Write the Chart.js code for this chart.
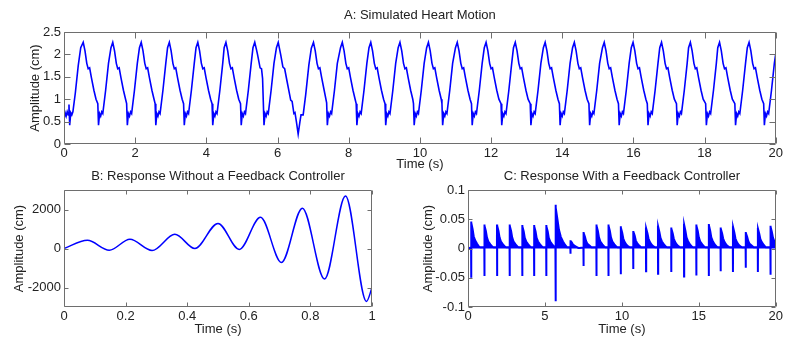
<!DOCTYPE html>
<html>
<head>
<meta charset="utf-8">
<script src="https://cdn.jsdelivr.net/npm/chart.js@4.4.1/dist/chart.umd.min.js"></script>
<style>
  body { margin: 0; background: #fff; }
  #wrap { position: relative; width: 785px; height: 337px; overflow: hidden; }
  canvas { position: absolute; }
</style>
</head>
<body>
<div id="wrap">
  <canvas id="chartA" width="785" height="172" style="left:0;top:0"></canvas>
  <canvas id="chartB" width="392" height="172" style="left:0;top:165px"></canvas>
  <canvas id="chartC" width="385" height="172" style="left:400px;top:165px"></canvas>
</div>
<script>
// A: simulated heart motion (s, cm), one line per beat
const heartTime = [
  0, 0.03, 0.06, 0.09, 0.12, 0.14, 0.16, 0.19, 0.22, 0.25, 0.32, 0.40, 0.47, 0.54, 0.59, 0.64, 0.68, 0.72, 0.77, 0.84, 0.90, 0.95,
  0.97, 1.00, 1.03, 1.06, 1.09, 1.17, 1.25, 1.32, 1.37, 1.42, 1.47, 1.51, 1.55, 1.60, 1.67, 1.73, 1.76,
  1.78, 1.81, 1.84, 1.87, 1.90, 1.98, 2.06, 2.12, 2.17, 2.22, 2.27, 2.31, 2.35, 2.40, 2.47, 2.53, 2.56,
  2.58, 2.61, 2.64, 2.67, 2.70, 2.78, 2.86, 2.91, 2.96, 3.01, 3.06, 3.10, 3.14, 3.19, 3.26, 3.32, 3.36,
  3.38, 3.41, 3.44, 3.47, 3.50, 3.58, 3.66, 3.71, 3.76, 3.81, 3.86, 3.90, 3.94, 3.99, 4.06, 4.12, 4.16,
  4.18, 4.21, 4.24, 4.27, 4.30, 4.38, 4.46, 4.50, 4.55, 4.60, 4.65, 4.69, 4.73, 4.78, 4.85, 4.91, 4.96,
  4.98, 5.01, 5.04, 5.07, 5.10, 5.18, 5.26, 5.31, 5.36, 5.41, 5.44, 5.51, 5.55, 5.58, 5.60,
  5.62, 5.65, 5.68, 5.71, 5.74, 5.82, 5.90, 5.97, 6.02, 6.09, 6.15, 6.20, 6.27, 6.37, 6.41, 6.46, 6.49, 6.53,
  6.58, 6.63, 6.66, 6.72, 6.79, 6.88, 6.95, 7.01, 7.06, 7.11, 7.15, 7.19, 7.24, 7.31, 7.38,
  7.40, 7.43, 7.46, 7.49, 7.52, 7.60, 7.68, 7.77, 7.82, 7.87, 7.92, 7.96, 8.00, 8.05, 8.12, 8.18, 8.21,
  8.23, 8.26, 8.29, 8.32, 8.35, 8.43, 8.51, 8.57, 8.62, 8.67, 8.72, 8.76, 8.80, 8.85, 8.92, 8.98, 9.02,
  9.04, 9.07, 9.10, 9.13, 9.16, 9.24, 9.32, 9.39, 9.44, 9.49, 9.54, 9.58, 9.62, 9.67, 9.74, 9.80, 9.82,
  9.84, 9.87, 9.90, 9.93, 9.96, 10.04, 10.12, 10.19, 10.24, 10.29, 10.34, 10.38, 10.42, 10.47, 10.54, 10.60, 10.62,
  10.64, 10.67, 10.70, 10.73, 10.76, 10.84, 10.92, 11.00, 11.05, 11.10, 11.15, 11.19, 11.23, 11.28, 11.35, 11.41, 11.45,
  11.47, 11.50, 11.53, 11.56, 11.59, 11.67, 11.75, 11.81, 11.86, 11.91, 11.96, 12.00, 12.04, 12.09, 12.16, 12.22, 12.28,
  12.30, 12.33, 12.36, 12.39, 12.42, 12.50, 12.58, 12.63, 12.68, 12.73, 12.78, 12.82, 12.86, 12.91, 12.98, 13.04, 13.10,
  13.12, 13.15, 13.18, 13.21, 13.24, 13.32, 13.40, 13.47, 13.52, 13.57, 13.62, 13.66, 13.70, 13.75, 13.82, 13.88, 13.92,
  13.94, 13.97, 14.00, 14.03, 14.06, 14.14, 14.22, 14.29, 14.34, 14.39, 14.44, 14.48, 14.52, 14.57, 14.64, 14.70, 14.75,
  14.77, 14.80, 14.83, 14.86, 14.89, 14.97, 15.05, 15.13, 15.18, 15.23, 15.28, 15.32, 15.36, 15.41, 15.48, 15.54, 15.58,
  15.60, 15.63, 15.66, 15.69, 15.72, 15.80, 15.88, 15.94, 15.99, 16.04, 16.09, 16.13, 16.17, 16.22, 16.29, 16.35, 16.39,
  16.41, 16.44, 16.47, 16.50, 16.53, 16.61, 16.69, 16.74, 16.79, 16.84, 16.89, 16.93, 16.97, 17.02, 17.09, 17.15, 17.21,
  17.23, 17.26, 17.29, 17.32, 17.35, 17.43, 17.51, 17.55, 17.60, 17.65, 17.70, 17.74, 17.78, 17.83, 17.90, 17.96, 18.03,
  18.05, 18.08, 18.11, 18.14, 18.17, 18.25, 18.33, 18.37, 18.42, 18.47, 18.52, 18.56, 18.60, 18.65, 18.72, 18.78, 18.85,
  18.87, 18.90, 18.93, 18.96, 18.99, 19.07, 19.15, 19.20, 19.25, 19.30, 19.35, 19.39, 19.43, 19.48, 19.55, 19.61, 19.66,
  19.68, 19.71, 19.74, 19.77, 19.80, 19.88, 19.96, 20.00
];
const heartAmp = [
  0.55, 0.70, 0.62, 0.72, 0.65, 0.88, 0.42, 0.70, 0.65, 0.72, 1.15, 1.75, 2.15, 2.27, 2.08, 1.80, 1.68, 1.70, 1.48, 1.20, 1.00, 0.90,
  0.42, 0.68, 0.62, 0.72, 0.68, 1.20, 1.80, 2.15, 2.27, 2.08, 1.80, 1.68, 1.70, 1.48, 1.20, 1.00, 0.90,
  0.42, 0.68, 0.62, 0.72, 0.68, 1.20, 1.80, 2.15, 2.27, 2.08, 1.80, 1.68, 1.70, 1.48, 1.20, 1.00, 0.90,
  0.42, 0.68, 0.62, 0.72, 0.68, 1.20, 1.80, 2.15, 2.27, 2.08, 1.80, 1.68, 1.70, 1.48, 1.20, 1.00, 0.90,
  0.42, 0.68, 0.62, 0.72, 0.68, 1.20, 1.80, 2.15, 2.27, 2.08, 1.80, 1.68, 1.70, 1.48, 1.20, 1.00, 0.90,
  0.42, 0.68, 0.62, 0.72, 0.68, 1.20, 1.80, 2.15, 2.27, 2.08, 1.80, 1.68, 1.70, 1.48, 1.20, 1.00, 0.90,
  0.42, 0.68, 0.62, 0.72, 0.68, 1.20, 1.80, 2.15, 2.27, 2.10, 1.99, 1.70, 1.68, 1.46, 0.95,
  0.42, 0.68, 0.62, 0.72, 0.68, 1.20, 1.80, 2.15, 2.27, 1.99, 1.72, 1.68, 1.39, 0.98, 0.95, 0.68, 0.70, 0.50,
  0.22, 0.50, 0.65, 0.65, 1.09, 1.76, 2.14, 2.27, 2.08, 1.80, 1.68, 1.70, 1.48, 1.20, 0.92,
  0.42, 0.68, 0.62, 0.72, 0.68, 1.20, 1.80, 2.15, 2.27, 2.08, 1.80, 1.68, 1.70, 1.48, 1.20, 1.00, 0.90,
  0.42, 0.68, 0.62, 0.72, 0.68, 1.20, 1.80, 2.15, 2.27, 2.08, 1.80, 1.68, 1.70, 1.48, 1.20, 1.00, 0.90,
  0.42, 0.68, 0.62, 0.72, 0.68, 1.20, 1.80, 2.15, 2.27, 2.08, 1.80, 1.68, 1.70, 1.48, 1.20, 1.00, 0.90,
  0.42, 0.68, 0.62, 0.72, 0.68, 1.20, 1.80, 2.15, 2.27, 2.08, 1.80, 1.68, 1.70, 1.48, 1.20, 1.00, 0.90,
  0.42, 0.68, 0.62, 0.72, 0.68, 1.20, 1.80, 2.15, 2.27, 2.08, 1.80, 1.68, 1.70, 1.48, 1.20, 1.00, 0.90,
  0.42, 0.68, 0.62, 0.72, 0.68, 1.20, 1.80, 2.15, 2.27, 2.08, 1.80, 1.68, 1.70, 1.48, 1.20, 1.00, 0.90,
  0.42, 0.68, 0.62, 0.72, 0.68, 1.20, 1.80, 2.15, 2.27, 2.08, 1.80, 1.68, 1.70, 1.48, 1.20, 1.00, 0.90,
  0.42, 0.68, 0.62, 0.72, 0.68, 1.20, 1.80, 2.15, 2.27, 2.08, 1.80, 1.68, 1.70, 1.48, 1.20, 1.00, 0.90,
  0.42, 0.68, 0.62, 0.72, 0.68, 1.20, 1.80, 2.15, 2.27, 2.08, 1.80, 1.68, 1.70, 1.48, 1.20, 1.00, 0.90,
  0.42, 0.68, 0.62, 0.72, 0.68, 1.20, 1.80, 2.15, 2.27, 2.08, 1.80, 1.68, 1.70, 1.48, 1.20, 1.00, 0.90,
  0.42, 0.68, 0.62, 0.72, 0.68, 1.20, 1.80, 2.15, 2.27, 2.08, 1.80, 1.68, 1.70, 1.48, 1.20, 1.00, 0.90,
  0.42, 0.68, 0.62, 0.72, 0.68, 1.20, 1.80, 2.15, 2.27, 2.08, 1.80, 1.68, 1.70, 1.48, 1.20, 1.00, 0.90,
  0.42, 0.68, 0.62, 0.72, 0.68, 1.20, 1.80, 2.15, 2.27, 2.08, 1.80, 1.68, 1.70, 1.48, 1.20, 1.00, 0.90,
  0.42, 0.68, 0.62, 0.72, 0.68, 1.20, 1.80, 2.15, 2.27, 2.08, 1.80, 1.68, 1.70, 1.48, 1.20, 1.00, 0.90,
  0.42, 0.68, 0.62, 0.72, 0.68, 1.20, 1.80, 2.15, 2.27, 2.08, 1.80, 1.68, 1.70, 1.48, 1.20, 1.00, 0.90,
  0.42, 0.68, 0.62, 0.72, 0.68, 1.20, 1.80, 2.02
];

// B: response without feedback controller (turning points)
const openTime = [0, 0.076, 0.147, 0.214, 0.286, 0.36, 0.425, 0.50, 0.569, 0.638, 0.706, 0.774, 0.846, 0.914, 0.982, 1.0];
const openAmp = [0, 418, -87, 470, -104, 730, 0, 1287, -52, 1600, -713, 2070, -1566, 2697, -2714, -2018];

// C: response with feedback controller. each burst: spike top, spike bottom,
// then the upper envelope of the fast ringing as it dies out
const closedTime = [
  0,
  0.20, 0.205, 0.21, 0.22, 0.30, 0.37, 0.46, 0.59, 0.72, 0.80,
  1.06, 1.065, 1.07, 1.08, 1.16, 1.23, 1.32, 1.45, 1.58, 1.66,
  1.88, 1.885, 1.89, 1.90, 1.98, 2.05, 2.14, 2.27, 2.40, 2.48,
  2.70, 2.705, 2.71, 2.72, 2.80, 2.87, 2.96, 3.09, 3.22, 3.30,
  3.52, 3.525, 3.53, 3.54, 3.62, 3.69, 3.78, 3.91, 4.04, 4.12,
  4.29, 4.295, 4.30, 4.31, 4.39, 4.46, 4.55, 4.68, 4.81, 4.89,
  5.08, 5.085, 5.09, 5.10, 5.18, 5.25, 5.34, 5.47, 5.60, 5.68,
  5.69, 5.695, 5.70, 5.71, 5.81, 5.91, 6.03, 6.17, 6.31, 6.44,
  6.65, 6.655, 6.66, 6.67, 6.75, 6.82, 6.91, 7.04, 7.17, 7.25,
  7.50, 7.505, 7.51, 7.52, 7.60, 7.67, 7.76, 7.89, 8.02, 8.10,
  8.34, 8.345, 8.35, 8.36, 8.44, 8.51, 8.60, 8.73, 8.86, 8.94,
  9.12, 9.125, 9.13, 9.14, 9.22, 9.29, 9.38, 9.51, 9.64, 9.72,
  9.92, 9.925, 9.93, 9.94, 10.02, 10.09, 10.18, 10.31, 10.44, 10.52,
  10.73, 10.735, 10.74, 10.75, 10.83, 10.90, 10.99, 11.12, 11.25, 11.33,
  11.56, 11.565, 11.57, 11.58, 11.66, 11.73, 11.82, 11.95, 12.08, 12.16,
  12.34, 12.345, 12.35, 12.36, 12.44, 12.51, 12.60, 12.73, 12.86, 12.94,
  13.20, 13.205, 13.21, 13.22, 13.30, 13.37, 13.46, 13.59, 13.72, 13.80,
  14.03, 14.035, 14.04, 14.05, 14.13, 14.20, 14.29, 14.42, 14.55, 14.63,
  14.83, 14.835, 14.84, 14.85, 14.93, 15.00, 15.09, 15.22, 15.35, 15.43,
  15.64, 15.645, 15.65, 15.66, 15.74, 15.81, 15.90, 16.03, 16.16, 16.24,
  16.41, 16.415, 16.42, 16.43, 16.51, 16.58, 16.67, 16.80, 16.93, 17.01,
  17.21, 17.215, 17.22, 17.23, 17.31, 17.38, 17.47, 17.60, 17.73, 17.81,
  18.04, 18.045, 18.05, 18.06, 18.14, 18.21, 18.30, 18.43, 18.56, 18.64,
  18.83, 18.835, 18.84, 18.85, 18.93, 19.00, 19.09, 19.22, 19.35, 19.43,
  19.65, 19.655, 19.66, 19.67, 19.75, 19.82, 19.91, 20.00
];
const closedAmp = [
  0,
  0.002, 0.046, -0.050, 0.044, 0.033, 0.021, 0.014, 0.008, 0.003, 0.002,
  0.002, 0.041, -0.047, 0.039, 0.030, 0.019, 0.012, 0.007, 0.003, 0.002,
  0.002, 0.041, -0.047, 0.039, 0.030, 0.019, 0.012, 0.007, 0.003, 0.002,
  0.002, 0.041, -0.047, 0.039, 0.030, 0.019, 0.012, 0.007, 0.003, 0.002,
  0.002, 0.040, -0.047, 0.038, 0.029, 0.018, 0.012, 0.007, 0.003, 0.002,
  0.002, 0.040, -0.047, 0.038, 0.029, 0.018, 0.012, 0.007, 0.003, 0.002,
  0.002, 0.040, -0.047, 0.038, 0.029, 0.018, 0.012, 0.007, 0.003, 0.002,
  0.002, 0.075, -0.090, 0.070, 0.050, 0.032, 0.020, 0.012, 0.006, 0.002,
  0.002, 0.014, -0.009, 0.013, 0.010, 0.007, 0.005, 0.003, 0.001, 0.001,
  0.002, 0.028, -0.030, 0.027, 0.020, 0.013, 0.008, 0.005, 0.002, 0.002,
  0.002, 0.041, -0.047, 0.039, 0.030, 0.019, 0.012, 0.007, 0.003, 0.002,
  0.002, 0.041, -0.047, 0.039, 0.030, 0.019, 0.012, 0.007, 0.003, 0.002,
  0.002, 0.038, -0.044, 0.036, 0.027, 0.017, 0.011, 0.006, 0.003, 0.002,
  0.002, 0.030, -0.035, 0.029, 0.022, 0.014, 0.009, 0.005, 0.002, 0.002,
  0.002, 0.036, -0.039, 0.034, 0.026, 0.017, 0.011, 0.006, 0.003, 0.002,
  0.002, 0.039, -0.043, 0.037, 0.028, 0.018, 0.012, 0.007, 0.003, 0.002,
  0.002, 0.036, -0.040, 0.034, 0.026, 0.017, 0.011, 0.006, 0.003, 0.002,
  0.002, 0.042, -0.048, 0.040, 0.030, 0.019, 0.013, 0.007, 0.003, 0.002,
  0.002, 0.041, -0.046, 0.039, 0.030, 0.019, 0.012, 0.007, 0.003, 0.002,
  0.002, 0.042, -0.047, 0.040, 0.030, 0.019, 0.013, 0.007, 0.003, 0.002,
  0.002, 0.036, -0.039, 0.034, 0.026, 0.017, 0.011, 0.006, 0.003, 0.002,
  0.002, 0.038, -0.040, 0.036, 0.027, 0.017, 0.011, 0.006, 0.003, 0.002,
  0.002, 0.028, -0.033, 0.027, 0.020, 0.013, 0.008, 0.005, 0.002, 0.002,
  0.002, 0.035, -0.040, 0.033, 0.025, 0.016, 0.011, 0.006, 0.002, 0.002,
  0.002, 0.039, -0.045, 0.037, 0.028, 0.018, 0.012, 0.008
];

// tick labels
const aTicksX = [0, 2, 4, 6, 8, 10, 12, 14, 16, 18, 20];
const aTicksY = [0, 0.5, 1, 1.5, 2, 2.5];
const bTicksX = [0, 0.2, 0.4, 0.6, 0.8, 1];
const bTicksY = [-2000, 0, 2000];
const cTicksX = [0, 5, 10, 15, 20];
const cTicksY = [-0.1, -0.05, 0, 0.05, 0.1];

Chart.defaults.font.family = '"Liberation Sans", Arial, sans-serif';
Chart.defaults.font.size = 13;
Chart.defaults.color = '#222';

const toPoints = (xs, ys) => xs.map((x, i) => ({ x: x, y: ys[i] }));

// matlab style box with inward ticks
const axesBox = {
  id: 'axesBox',
  afterDatasetsDraw(chart, args, opts) {
    const { ctx, chartArea: a, scales } = chart;
    const len = opts.tick || 5;
    const l = Math.round(a.left) + 0.5, r = Math.round(a.right) - 0.5;
    const t = Math.round(a.top) + 0.5, b = Math.round(a.bottom) - 0.5;
    ctx.save();
    ctx.strokeStyle = '#6e6e6e';
    ctx.lineWidth = 1;
    ctx.beginPath();
    ctx.rect(l, t, r - l, b - t);
    scales.x.ticks.forEach((tk) => {
      const px = Math.round(scales.x.getPixelForValue(tk.value)) + 0.5;
      ctx.moveTo(px, b); ctx.lineTo(px, b - len);
      ctx.moveTo(px, t); ctx.lineTo(px, t + len);
    });
    scales.y.ticks.forEach((tk) => {
      const py = Math.round(scales.y.getPixelForValue(tk.value)) + 0.5;
      ctx.moveTo(l, py); ctx.lineTo(l + len, py);
      ctx.moveTo(r, py); ctx.lineTo(r - len, py);
    });
    ctx.stroke();
    ctx.restore();
  }
};

function makeChart(id, cfg) {
  return new Chart(document.getElementById(id), {
    type: 'line',
    data: {
      datasets: [{
        data: cfg.points,
        borderColor: '#0000ff',
        backgroundColor: '#0000ff',
        borderWidth: cfg.lineWidth,
        pointRadius: 0,
        tension: 0,
        fill: cfg.fill ? 'origin' : false,
        cubicInterpolationMode: cfg.smooth ? 'monotone' : 'default'
      }]
    },
    plugins: [axesBox],
    options: {
      responsive: false,
      animation: false,
      events: [],
      layout: { padding: { left: 0, right: cfg.padRight, top: 0, bottom: 0 } },
      plugins: {
        legend: { display: false },
        tooltip: { enabled: false },
        axesBox: { tick: cfg.tickLen },
        title: {
          display: true,
          text: cfg.title,
          fullSize: false,
          font: { size: 13, weight: 'normal' },
          color: '#222',
          padding: cfg.titlePad
        }
      },
      scales: {
        x: {
          type: 'linear',
          min: cfg.xMin,
          max: cfg.xMax,
          grid: { display: false, drawTicks: false },
          border: { display: false },
          afterBuildTicks: (s) => { s.ticks = cfg.xTicks.map((v) => ({ value: v })); },
          afterFit: (s) => { s.height = cfg.xHeight; },
          ticks: { padding: 2, maxRotation: 0, autoSkip: false, callback: (v) => String(v) },
          title: { display: true, text: 'Time (s)', padding: { top: 0, bottom: 0 } }
        },
        y: {
          min: cfg.yMin,
          max: cfg.yMax,
          grid: { display: false, drawTicks: false },
          border: { display: false },
          afterBuildTicks: (s) => { s.ticks = cfg.yTicks.map((v) => ({ value: v })); },
          afterFit: (s) => { s.width = cfg.yWidth; },
          ticks: { padding: 3, autoSkip: false, callback: (v) => String(v) },
          title: { display: true, text: 'Amplitude (cm)', padding: { top: cfg.yTitleOffset, bottom: 0 } }
        }
      }
    }
  });
}

makeChart('chartA', {
  points: toPoints(heartTime, heartAmp),
  lineWidth: 1.6, smooth: false, fill: false, tickLen: 6,
  title: 'A: Simulated Heart Motion', titlePad: { top: 8, bottom: 8.4 },
  padRight: 7, xHeight: 28, yWidth: 64, yTitleOffset: 27.7,
  xMin: 0, xMax: 20, xTicks: aTicksX,
  yMin: 0, yMax: 2.5, yTicks: aTicksY
});

makeChart('chartB', {
  points: toPoints(openTime, openAmp),
  lineWidth: 1.5, smooth: true, fill: false, tickLen: 4,
  title: 'B: Response Without a Feedback Controller', titlePad: { top: 4, bottom: 5.4 },
  padRight: 20, xHeight: 30, yWidth: 64, yTitleOffset: 11.5,
  xMin: 0, xMax: 1, xTicks: bTicksX,
  yMin: -3000, yMax: 3000, yTicks: bTicksY
});

// the ringing is far denser than a pixel, so it reads as a solid band
makeChart('chartC', {
  points: toPoints(closedTime, closedAmp),
  lineWidth: 2, smooth: false, fill: true, tickLen: 4,
  title: 'C: Response With a Feedback Controller', titlePad: { top: 4, bottom: 5.4 },
  padRight: 6, xHeight: 30, yWidth: 68, yTitleOffset: 20.2,
  xMin: 0, xMax: 20, xTicks: cTicksX,
  yMin: -0.1, yMax: 0.1, yTicks: cTicksY
});
</script>
</body>
</html>
